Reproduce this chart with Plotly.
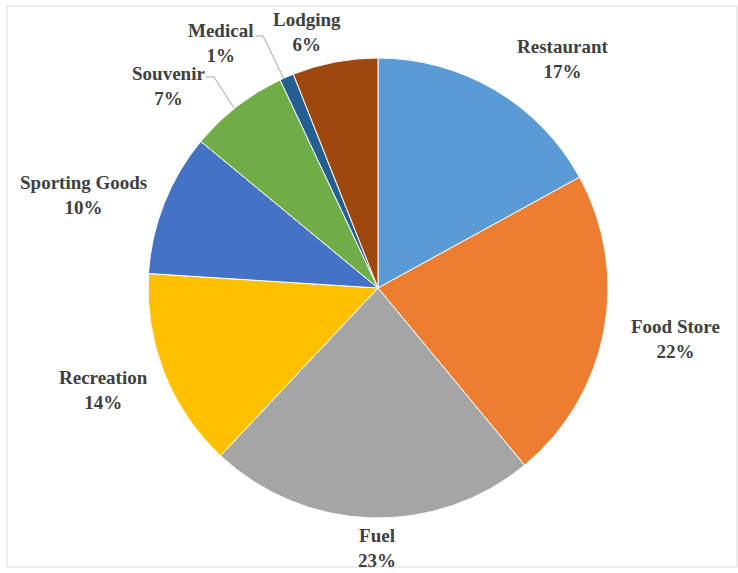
import plotly.graph_objects as go

categories = ["Restaurant", "Food Store", "Fuel", "Recreation", "Sporting Goods", "Souvenir", "Medical", "Lodging"]
percents = [17, 22, 23, 14, 10, 7, 1, 6]
colors = ["#5B9BD5", "#ED7D31", "#A5A5A5", "#FFC000", "#4472C4", "#70AD47", "#255E91", "#9E480E"]

W, H = 738, 573
cx, cy, r = 378, 288, 230
FONT = "Liberation Serif, Times New Roman, serif"

# label centre positions in pixels (layout only)
label_pos = [(562, 59), (675, 339), (377, 548), (103, 390), (83, 195), (168, 86), (220, 43), (307, 32)]

fig = go.Figure(go.Pie(
    labels=categories,
    values=percents,
    sort=False,
    direction="clockwise",
    rotation=0,
    marker=dict(colors=colors, line=dict(color="white", width=1)),
    textinfo="none",
    domain=dict(x=[(cx - r) / W, (cx + r) / W], y=[1 - (cy + r) / H, 1 - (cy - r) / H]),
    showlegend=False,
    hoverinfo="label+percent",
))

annotations = []
for c, p, (px, py) in zip(categories, percents, label_pos):
    annotations.append(dict(
        x=px / W, y=1 - py / H, xref="paper", yref="paper",
        text=f"<b>{c}</b><br><b>{p}%</b>", showarrow=False,
        xanchor="center", yanchor="middle", align="center",
        font=dict(family=FONT, size=19, color="#404040"),
    ))

def px_path(pts):
    return "M " + " L ".join(f"{x / W},{1 - y / H}" for x, y in pts)

shapes = [
    dict(type="rect", xref="paper", yref="paper", x0=7 / W, x1=737 / W, y0=1 - 567 / H, y1=1 - 6 / H,
         line=dict(color="#D9D9D9", width=1)),
    dict(type="path", xref="paper", yref="paper", path=px_path([(256, 36), (263, 36), (284, 79)]),
         line=dict(color="#A6A6A6", width=1)),
    dict(type="path", xref="paper", yref="paper", path=px_path([(206, 77), (214, 77), (234, 108)]),
         line=dict(color="#A6A6A6", width=1)),
]

fig.update_layout(
    width=W, height=H,
    margin=dict(l=0, r=0, t=0, b=0),
    paper_bgcolor="white",
    font=dict(family=FONT),
    annotations=annotations,
    shapes=shapes,
)
fig.write_html("out.html")
